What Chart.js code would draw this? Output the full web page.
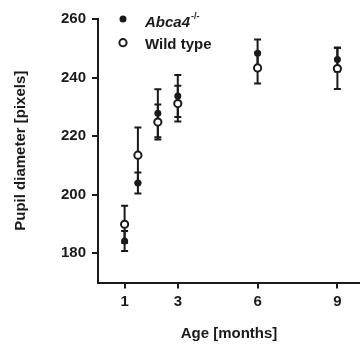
<!DOCTYPE html>
<html><head><meta charset="utf-8">
<script src="https://cdn.jsdelivr.net/npm/chart.js@4/dist/chart.umd.min.js"></script>
<style>html,body{margin:0;padding:0;background:#fff;}#wrap{width:360px;height:344px;}</style>
</head><body><div id="wrap"><canvas id="c" width="360" height="344"></canvas></div>
<script>
const ages = [1, 1.5, 2.25, 3, 6, 9];
const abcaMean = [184.2, 204.0, 227.8, 233.7, 248.3, 246.2];
const abcaErr = [3.4, 3.6, 8.2, 7.2, 4.7, 4.1];
const wtMean = [189.9, 213.5, 224.8, 231.1, 243.3, 243.1];
const wtErr = [6.3, 9.4, 6.0, 6.1, 5.3, 7.0];
const yTicks = [180, 200, 220, 240, 260];
const xTicks = [1, 3, 6, 9];
const seriesNames = ['Abca4', 'Wild type'];
const superscript = '-/-';
const xTitle = 'Age [months]';
const yTitle = 'Pupil diameter [pixels]';

const INK = '#1a1a1a';
const FONT = '"Liberation Sans", Arial, sans-serif';

const errorBars = {
  id: 'errorBars',
  beforeDatasetsDraw(chart) {
    const {ctx, scales: {x, y}} = chart;
    ctx.save();
    ctx.strokeStyle = INK;
    ctx.lineWidth = 2;
    const sets = [[abcaMean, abcaErr], [wtMean, wtErr]];
    sets.forEach(([m, e]) => {
      ages.forEach((a, i) => {
        const px = x.getPixelForValue(a);
        const top = y.getPixelForValue(m[i] + e[i]);
        const bot = y.getPixelForValue(m[i] - e[i]);
        ctx.beginPath();
        ctx.moveTo(px, top); ctx.lineTo(px, bot);
        ctx.moveTo(px - 3.5, top); ctx.lineTo(px + 3.5, top);
        ctx.moveTo(px - 3.5, bot); ctx.lineTo(px + 3.5, bot);
        ctx.stroke();
      });
    });
    ctx.restore();
  }
};

const legendPlugin = {
  id: 'customLegend',
  afterDraw(chart) {
    const ctx = chart.ctx;
    ctx.save();
    ctx.fillStyle = INK;
    ctx.beginPath(); ctx.arc(123, 19, 3.5, 0, Math.PI * 2); ctx.fill();
    ctx.strokeStyle = INK; ctx.lineWidth = 2; ctx.fillStyle = '#fff';
    ctx.beginPath(); ctx.arc(123, 42.7, 3.6, 0, Math.PI * 2); ctx.fill(); ctx.stroke();
    ctx.fillStyle = INK;
    ctx.textBaseline = 'alphabetic';
    ctx.textAlign = 'left';
    ctx.font = 'italic bold 15px ' + FONT;
    ctx.fillText(seriesNames[0], 145, 26.5);
    const w = ctx.measureText(seriesNames[0]).width;
    ctx.font = 'bold 9px ' + FONT;
    ctx.fillText(superscript, 145 + w + 1, 19);
    ctx.font = 'bold 15px ' + FONT;
    ctx.fillText(seriesNames[1], 145, 48.5);
    ctx.restore();
  }
};

const tickFont = {family: FONT, size: 15, weight: 'bold'};

new Chart(document.getElementById('c'), {
  type: 'scatter',
  data: {
    datasets: [
      {
        label: seriesNames[1],
        data: ages.map((a, i) => ({x: a, y: wtMean[i]})),
        pointRadius: 3.6, pointBorderWidth: 2,
        pointBackgroundColor: '#fff', pointBorderColor: INK
      },
      {
        label: seriesNames[0],
        data: ages.map((a, i) => ({x: a, y: abcaMean[i]})),
        pointRadius: 3.5, pointBorderWidth: 0,
        pointBackgroundColor: INK, pointBorderColor: INK
      }
    ]
  },
  options: {
    responsive: false,
    devicePixelRatio: 1,
    animation: false,
    layout: {autoPadding: false, padding: {top: 19, left: 0, right: 0, bottom: 0}},
    plugins: {legend: {display: false}, tooltip: {enabled: false}},
    scales: {
      x: {
        type: 'linear', min: 0, max: 9.85,
        afterBuildTicks: s => { s.ticks = xTicks.map(v => ({value: v})); },
        afterFit: s => { s.height = 61.5; s.paddingLeft = 0; s.paddingRight = 0; },
        grid: {drawOnChartArea: false, drawTicks: true, tickLength: 6, color: INK, lineWidth: 2},
        border: {display: true, color: INK, width: 2},
        ticks: {color: INK, font: tickFont, padding: 4, maxRotation: 0},
        title: {display: true, text: xTitle, color: INK, font: tickFont, padding: {top: 0, bottom: 1}}
      },
      y: {
        type: 'linear', min: 170, max: 260,
        afterBuildTicks: s => { s.ticks = yTicks.map(v => ({value: v})); },
        afterFit: s => { s.width = 98; s.paddingTop = 0; s.paddingBottom = 0; },
        grid: {drawOnChartArea: false, drawTicks: true, tickLength: 6, color: INK, lineWidth: 2},
        border: {display: true, color: INK, width: 2},
        ticks: {color: INK, font: tickFont, padding: 6},
        title: {display: true, text: yTitle, color: INK, font: tickFont, padding: {top: 12, bottom: 0}}
      }
    }
  },
  plugins: [errorBars, legendPlugin]
});
</script></body></html>
